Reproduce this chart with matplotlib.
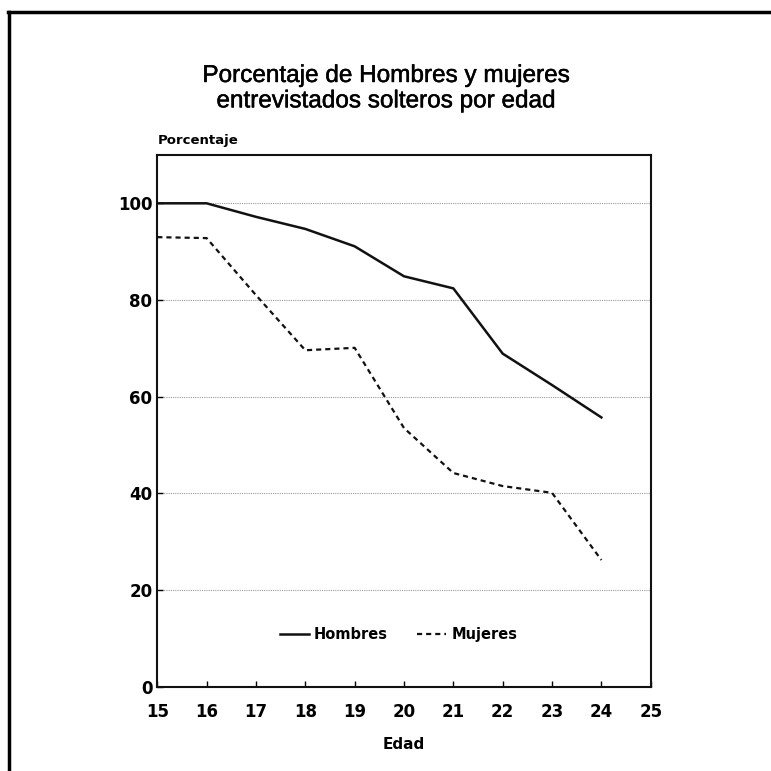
import matplotlib
matplotlib.use("Agg")
import matplotlib.pyplot as plt
from matplotlib.lines import Line2D
import matplotlib.patheffects as pe

plt.rcParams['font.family'] = ['Liberation Sans', 'DejaVu Sans']

edad = [15, 16, 17, 18, 19, 20, 21, 22, 23, 24]
hombres = [100, 100, 97.2, 94.7, 91.1, 84.9, 82.4, 68.9, 62.4, 55.7]
mujeres = [93.0, 92.8, 81.0, 69.6, 70.1, 53.5, 44.2, 41.5, 40.1, 26.2]
x_ticks = list(range(15, 26))
y_ticks = [0, 20, 40, 60, 80, 100]

title = "Porcentaje de Hombres y mujeres\nentrevistados solteros por edad"
bold_font = {'family': 'DejaVu Sans', 'weight': 'bold'}

fig = plt.figure(figsize=(7.71, 7.71), dpi=100)
ax = fig.add_axes([0.204, 0.1094, 0.640, 0.6896])

for y in y_ticks[1:]:
    ax.axhline(y, color='#9a9a9a', linestyle=(0, (1, 1)), linewidth=0.8, zorder=1)

ax.plot(edad, hombres, color='#111111', linewidth=1.8, label='Hombres', zorder=3)
ax.plot(edad, mujeres, color='#111111', linewidth=1.6, linestyle=(0, (2.3, 1.8)),
        label='Mujeres', zorder=3)

ax.set_xlim(15, 25)
ax.set_ylim(0, 110)
ax.set_xticks(x_ticks)
ax.set_yticks(y_ticks)
ax.tick_params(axis='both', direction='in', length=4, width=1, labelsize=12)
ax.tick_params(axis='x', pad=11.5)
ax.tick_params(axis='y', pad=3.5)
for lab in ax.get_xticklabels() + ax.get_yticklabels():
    lab.set_fontfamily('DejaVu Sans')
    lab.set_fontweight('bold')
for s in ax.spines.values():
    s.set_linewidth(1.5)
    s.set_color('#111111')

ax.set_xlabel('Edad', fontdict=dict(bold_font, size=11), labelpad=12)
ax.text(0.0, 1.028, 'Porcentaje', transform=ax.transAxes, fontdict=dict(bold_font, size=9.5),
        ha='left', va='center')

leg = ax.legend(loc='center', bbox_to_anchor=(0.489, 0.098), ncol=2, frameon=False,
                prop={'family': 'DejaVu Sans', 'weight': 'bold', 'size': 10.5},
                handlelength=2.0, columnspacing=2.0, handletextpad=0.35)

t = fig.text(0.5, 0.885, title, ha='center', va='center', fontsize=17.5, linespacing=1.2)
t.set_path_effects([pe.withStroke(linewidth=0.35, foreground='black')])

# outer frame (left and top edges of the scanned page box)
fig.add_artist(Line2D([0.012, 0.012], [0.0, 0.984], transform=fig.transFigure,
                      color='black', linewidth=2.5))
fig.add_artist(Line2D([0.011, 1.0], [0.984, 0.984], transform=fig.transFigure,
                      color='black', linewidth=2.5))

fig.savefig('out.png', dpi=100)
